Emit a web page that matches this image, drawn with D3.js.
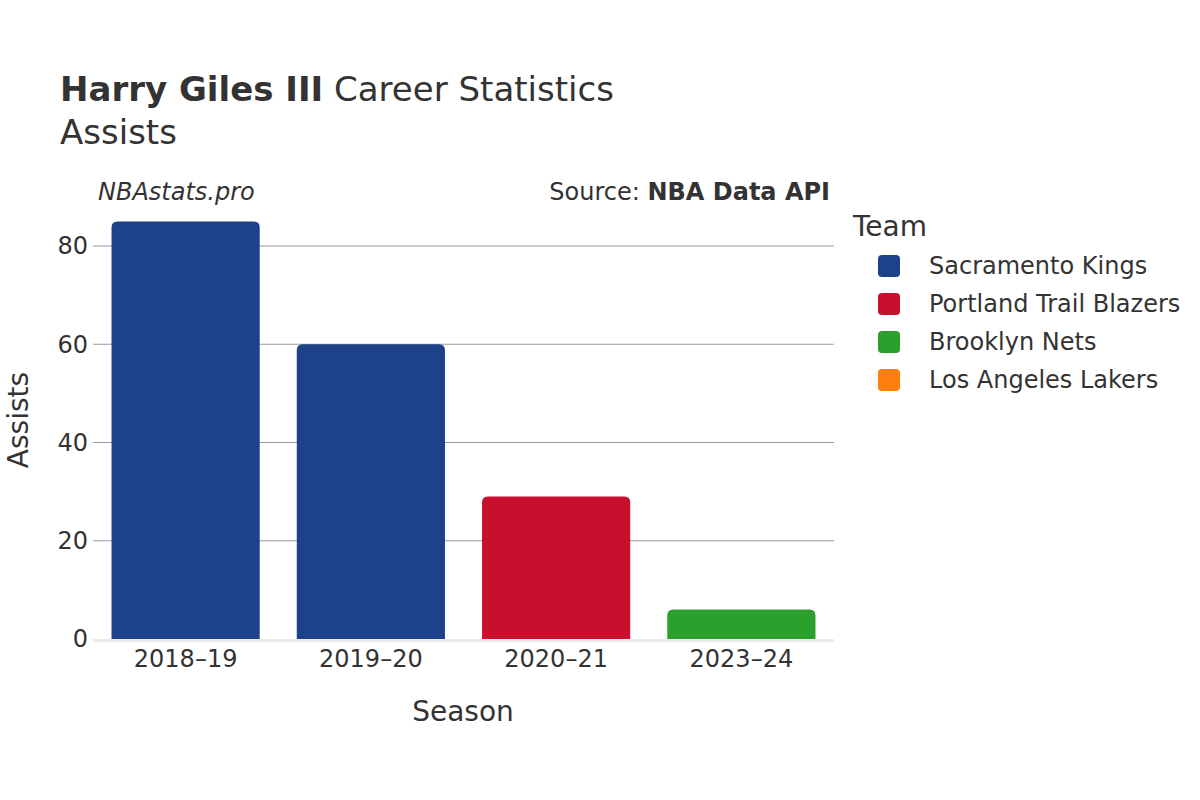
<!DOCTYPE html>
<html>
<head>
<meta charset="utf-8">
<script src="https://cdn.jsdelivr.net/npm/d3@7"></script>
<style>
  body { margin: 0; background: #fff; }
  text { font-family: "DejaVu Sans", sans-serif; fill: #333; }
</style>
</head>
<body>
<svg id="chart" width="1200" height="800"></svg>
<script>
const seasons = ["2018\u201319", "2019\u201320", "2020\u201321", "2023\u201324"];
const assists = [85, 60, 29, 6];
const seasonTeams = ["Sacramento Kings", "Sacramento Kings", "Portland Trail Blazers", "Brooklyn Nets"];
const teams = ["Sacramento Kings", "Portland Trail Blazers", "Brooklyn Nets", "Los Angeles Lakers"];
const teamColors = ["#1d428a", "#c8102e", "#2ca02c", "#ff7f0e"];
const yTicks = [0, 20, 40, 60, 80];

(function () {
const svg = d3.select("#chart");
const pL = 93, pR = 834, pT = 207, pB = 639;

const x = d3.scaleBand().domain(seasons).range([pL, pR]).paddingInner(0.2).paddingOuter(0.1);
const y = d3.scaleLinear().domain([0, 87.94]).range([pB, pT]);
const color = d3.scaleOrdinal().domain(teams).range(teamColors);

// gridlines
svg.append("g").selectAll("line").data(yTicks.filter(d => d > 0)).join("line")
  .attr("x1", pL).attr("x2", pR)
  .attr("y1", d => y(d)).attr("y2", d => y(d))
  .attr("stroke", "#999").attr("stroke-width", 1);

// bars with rounded top
const r = 6;
function barPath(x0, w, yTop, yBot) {
  const rr = Math.min(r, (yBot - yTop));
  return `M${x0},${yBot} V${yTop + rr} Q${x0},${yTop} ${x0 + rr},${yTop} H${x0 + w - rr} Q${x0 + w},${yTop} ${x0 + w},${yTop + rr} V${yBot} Z`;
}
svg.append("g").selectAll("path").data(seasons).join("path")
  .attr("d", (d, i) => barPath(x(d), x.bandwidth(), y(assists[i]), y(0)))
  .attr("fill", (d, i) => color(seasonTeams[i]));

// zero line
svg.append("line").attr("x1", pL).attr("x2", pR)
  .attr("y1", y(0) + 1.5).attr("y2", y(0) + 1.5)
  .attr("stroke", "#ebebeb").attr("stroke-width", 3);

// y axis labels
svg.append("g").selectAll("text").data(yTicks).join("text")
  .attr("x", 88).attr("y", d => y(d)).attr("dy", "0.35em")
  .attr("text-anchor", "end").attr("font-size", 24).text(d => d);

// x axis labels
svg.append("g").selectAll("text").data(seasons).join("text")
  .attr("x", d => x(d) + x.bandwidth() / 2).attr("y", 667)
  .attr("text-anchor", "middle").attr("font-size", 24).text(d => d);

// axis titles
svg.append("text").attr("x", 463).attr("y", 721).attr("text-anchor", "middle")
  .attr("font-size", 28).text("Season");
svg.append("text").attr("transform", "translate(28,420) rotate(-90)")
  .attr("text-anchor", "middle").attr("font-size", 28).text("Assists");

// title
const t = svg.append("text").attr("x", 60).attr("y", 101).attr("font-size", 34);
t.append("tspan").attr("font-weight", "bold").text("Harry Giles III");
t.append("tspan").text(" Career Statistics");
svg.append("text").attr("x", 60).attr("y", 144).attr("font-size", 34).text("Assists");

// annotations
svg.append("text").attr("x", 98).attr("y", 200).attr("font-size", 24)
  .attr("font-style", "italic").text("NBAstats.pro");
const s = svg.append("text").attr("x", 830).attr("y", 200).attr("font-size", 24).attr("text-anchor", "end");
s.append("tspan").text("Source: ");
s.append("tspan").attr("font-weight", "bold").text("NBA Data API");

// legend
svg.append("text").attr("x", 853).attr("y", 236).attr("font-size", 28).text("Team");
const lg = svg.append("g").selectAll("g").data(teams).join("g")
  .attr("transform", (d, i) => `translate(0,${266 + i * 38})`);
lg.append("rect").attr("x", 878).attr("y", -11).attr("width", 22).attr("height", 22)
  .attr("rx", 4).attr("fill", d => color(d));
lg.append("text").attr("x", 929).attr("dy", "0.35em").attr("font-size", 24).text(d => d);
})();
</script>
</body>
</html>
